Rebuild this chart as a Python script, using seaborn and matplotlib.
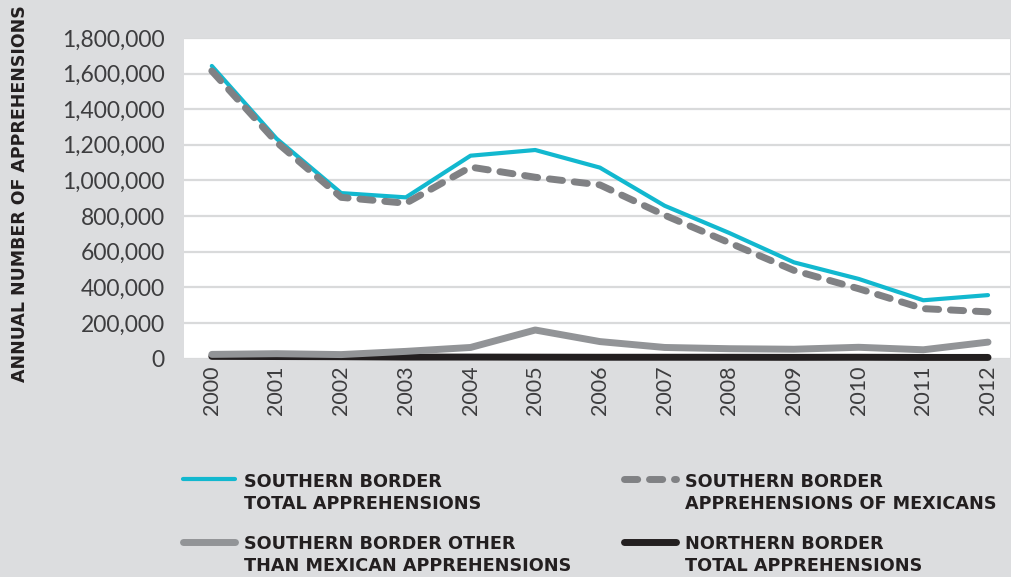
import matplotlib
matplotlib.use("Agg")
import matplotlib.pyplot as plt
import seaborn as sns
import pandas as pd
import numpy as np
from matplotlib.ticker import FuncFormatter
from matplotlib.lines import Line2D
from matplotlib.legend_handler import HandlerLine2D

years = [2000, 2001, 2002, 2003, 2004, 2005, 2006, 2007, 2008, 2009, 2010, 2011, 2012]
south_total = [1643000, 1235000, 929000, 905000, 1139000, 1171000, 1072000, 858000, 705000, 540000, 447000, 327000, 356000]
south_mexican = [1615000, 1215000, 905000, 872000, 1075000, 1018000, 975000, 805000, 650000, 495000, 392000, 280000, 262000]
south_other = [23000, 27000, 22000, 40000, 62000, 160000, 95000, 62000, 55000, 52000, 63000, 49000, 92000]
north_total = [12000, 11000, 10000, 8000, 8000, 7500, 7000, 7000, 7000, 6500, 7000, 6000, 6000]

labels = ["SOUTHERN BORDER\nTOTAL APPREHENSIONS",
          "SOUTHERN BORDER\nAPPREHENSIONS OF MEXICANS",
          "SOUTHERN BORDER OTHER\nTHAN MEXICAN APPREHENSIONS",
          "NORTHERN BORDER\nTOTAL APPREHENSIONS"]
y_ticks = [0, 200000, 400000, 600000, 800000, 1000000, 1200000, 1400000, 1600000, 1800000]
y_label = "ANNUAL NUMBER OF APPREHENSIONS"

bg = "#dcdddf"
text_col = "#231f20"
tick_col = "#3d3d3f"


class TopLineHandler(HandlerLine2D):
    """Place the legend line level with the first text line."""
    def __init__(self, shift, **kw):
        super().__init__(**kw)
        self.shift = shift

    def create_artists(self, legend, orig_handle, xdescent, ydescent,
                       width, height, fontsize, trans):
        arts = super().create_artists(legend, orig_handle, xdescent, ydescent,
                                      width, height, fontsize, trans)
        for a in arts:
            a.set_ydata(np.asarray(a.get_ydata()) + self.shift)
        return arts


sns.set_theme(style="white")
plt.rcParams["font.family"] = ["DejaVu Sans"]

fig = plt.figure(figsize=(10.12, 5.77), dpi=100, facecolor=bg)
ax = fig.add_axes([184/1012, 1-358.5/577, (1010-184)/1012, (358.5-38)/577])
ax.set_facecolor("white")

df = pd.DataFrame({"year": years, "st": south_total, "sm": south_mexican,
                   "so": south_other, "nt": north_total})

sns.lineplot(data=df, x="year", y="nt", ax=ax, color="#231f20", linewidth=5,
             solid_capstyle="round", clip_on=False, zorder=3, label=labels[3])
sns.lineplot(data=df, x="year", y="so", ax=ax, color="#929497", linewidth=5,
             solid_capstyle="round", clip_on=False, zorder=4, label=labels[2])
sns.lineplot(data=df, x="year", y="st", ax=ax, color="#12b8cf", linewidth=3,
             solid_capstyle="round", clip_on=False, zorder=5, label=labels[0])
sns.lineplot(data=df, x="year", y="sm", ax=ax, color="#808184", linewidth=5,
             linestyle=(0, (1.9, 1.7)), dash_capstyle="round", clip_on=False,
             zorder=6, label=labels[1])

ax.set_xlim(1999.57, 2012.34)
ax.set_ylim(0, 1800000)
ax.set_xticks(years)
ax.set_xticklabels([str(y) for y in years], rotation=90, fontfamily="Lato",
                   fontsize=15.5, color=tick_col)
ax.set_yticks(y_ticks)
ax.yaxis.set_major_formatter(FuncFormatter(lambda v, p: f"{int(v):,}"))
for t in ax.get_yticklabels():
    t.set_fontfamily("Lato")
    t.set_fontsize(16.5)
    t.set_color(tick_col)
ax.tick_params(axis="y", length=0, pad=14)
ax.tick_params(axis="x", length=0, pad=5)
ax.grid(axis="y", color="#d9dadb", linewidth=1.6)
ax.set_axisbelow(True)
for s in ax.spines.values():
    s.set_visible(False)

ax.set_xlabel("")
ax.set_ylabel(y_label, fontsize=12.5, fontweight="bold", color=text_col)
ax.yaxis.set_label_coords(-0.188, 0.515)

if ax.get_legend():
    ax.get_legend().remove()
lines = {l.get_label(): l for l in ax.get_lines()}
prop = {"family": "DejaVu Sans", "weight": "bold", "size": 12.7}
cols = [([labels[0], labels[2]], 176), ([labels[1], labels[3]], 617)]
for keys, xpx in cols:
    leg = fig.legend([lines[k] for k in keys], keys, ncol=1, loc="upper left",
                     bbox_to_anchor=(xpx/1012, 1-466/577), frameon=False,
                     handlelength=2.95, handletextpad=0.5, borderaxespad=0,
                     labelspacing=1.3, prop=prop,
                     handler_map={Line2D: TopLineHandler(10.3)})
    for t in leg.get_texts():
        t.set_color(text_col)
        t.set_linespacing(1.25)

fig.savefig("out.png", dpi=100, facecolor=bg)
